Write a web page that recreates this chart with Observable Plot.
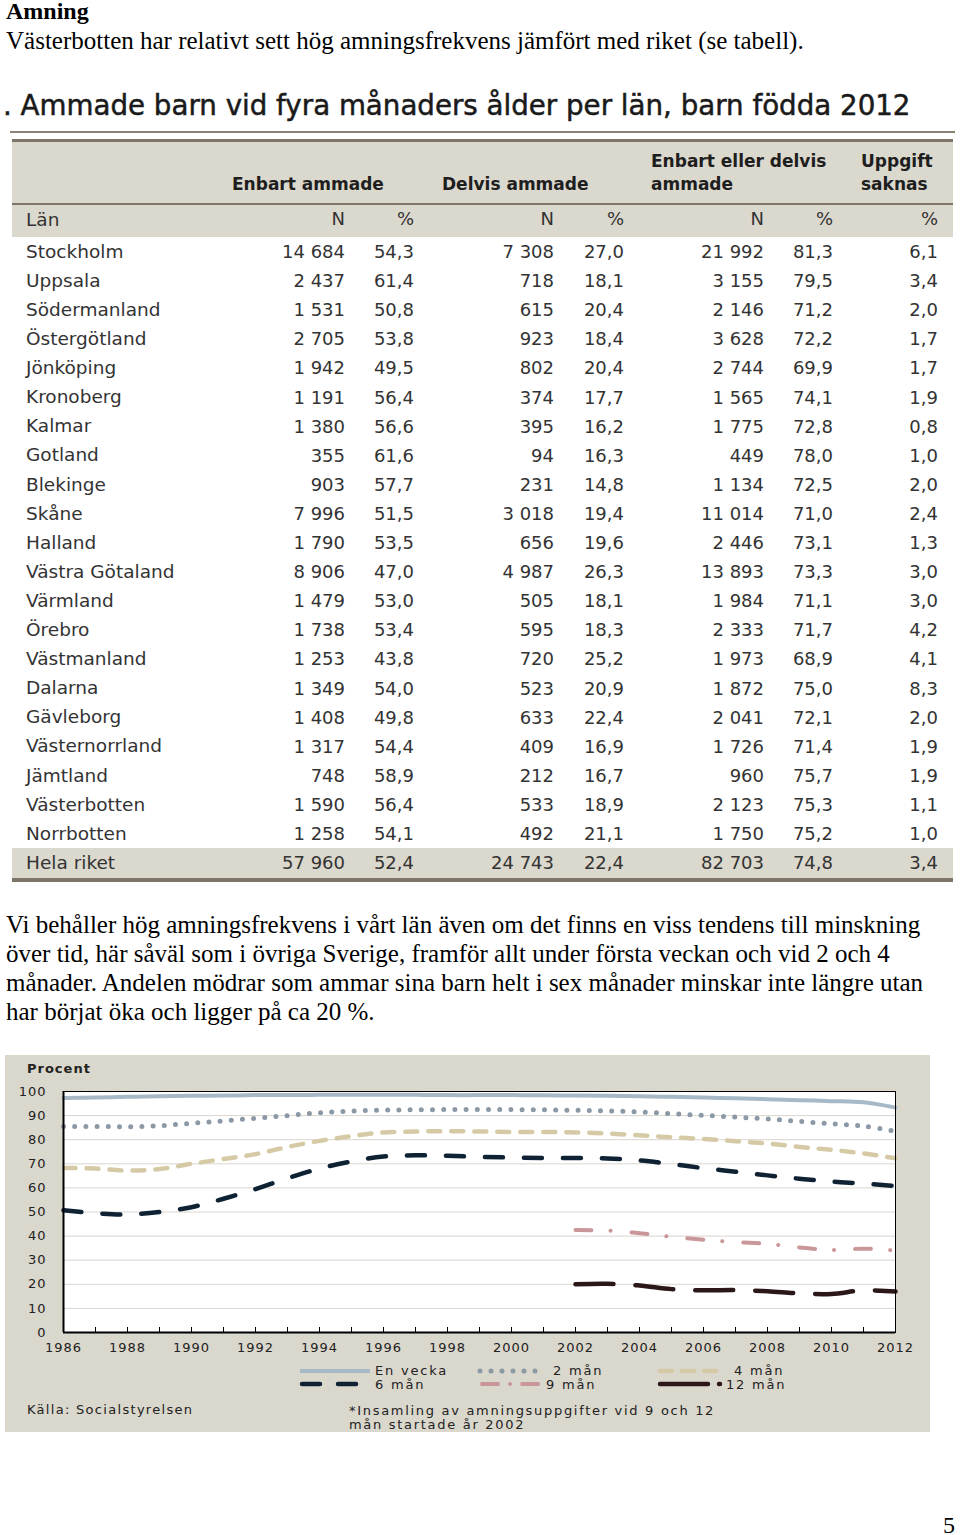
<!DOCTYPE html>
<html><head><meta charset="utf-8">
<script src="https://cdn.jsdelivr.net/npm/d3@7"></script>
<script src="https://cdn.jsdelivr.net/npm/@observablehq/plot@0.6"></script>
<style>
html,body{margin:0;padding:0;background:#fff}
body{width:960px;height:1535px;position:relative;overflow:hidden}
.t{position:absolute;white-space:nowrap}
.serif{font-family:"Liberation Serif","Times New Roman",serif;color:#000}
.sans{font-family:"DejaVu Sans",sans-serif}
.bar{position:absolute}
</style></head><body>
<script>
// ---------- data: table ----------
const lan = ["Stockholm","Uppsala","Södermanland","Östergötland","Jönköping","Kronoberg","Kalmar","Gotland","Blekinge","Skåne","Halland","Västra Götaland","Värmland","Örebro","Västmanland","Dalarna","Gävleborg","Västernorrland","Jämtland","Västerbotten","Norrbotten","Hela riket"];
const enbartN   = ["14 684","2 437","1 531","2 705","1 942","1 191","1 380","355","903","7 996","1 790","8 906","1 479","1 738","1 253","1 349","1 408","1 317","748","1 590","1 258","57 960"];
const enbartPct = ["54,3","61,4","50,8","53,8","49,5","56,4","56,6","61,6","57,7","51,5","53,5","47,0","53,0","53,4","43,8","54,0","49,8","54,4","58,9","56,4","54,1","52,4"];
const delvisN   = ["7 308","718","615","923","802","374","395","94","231","3 018","656","4 987","505","595","720","523","633","409","212","533","492","24 743"];
const delvisPct = ["27,0","18,1","20,4","18,4","20,4","17,7","16,2","16,3","14,8","19,4","19,6","26,3","18,1","18,3","25,2","20,9","22,4","16,9","16,7","18,9","21,1","22,4"];
const totN      = ["21 992","3 155","2 146","3 628","2 744","1 565","1 775","449","1 134","11 014","2 446","13 893","1 984","2 333","1 973","1 872","2 041","1 726","960","2 123","1 750","82 703"];
const totPct    = ["81,3","79,5","71,2","72,2","69,9","74,1","72,8","78,0","72,5","71,0","73,1","73,3","71,1","71,7","68,9","75,0","72,1","71,4","75,7","75,3","75,2","74,8"];
const saknasPct = ["6,1","3,4","2,0","1,7","1,7","1,9","0,8","1,0","2,0","2,4","1,3","3,0","3,0","4,2","4,1","8,3","2,0","1,9","1,9","1,1","1,0","3,4"];

// ---------- data: chart ----------
const years = d3.range(1986, 2013);
const enVecka = [97.3,97.5,97.8,98.0,98.2,98.3,98.5,98.5,98.6,98.6,98.6,98.6,98.5,98.5,98.5,98.4,98.3,98.2,98.0,97.8,97.5,97.2,96.8,96.4,96.0,95.5,93.3];
const man2    = [85.5,85.5,85.4,85.8,86.8,87.8,88.9,90.0,91.2,91.9,92.3,92.4,92.5,92.5,92.5,92.4,92.2,92.0,91.5,90.8,90.1,89.4,88.6,87.6,86.6,85.6,83.5];
const man4    = [68.3,68.0,67.2,67.8,70.0,72.0,74.0,77.0,79.5,81.5,83.0,83.4,83.5,83.4,83.2,83.2,83.0,82.6,81.8,81.0,80.3,79.4,78.4,77.0,75.8,74.3,72.3];
const man6    = [50.7,49.5,49.0,50.0,52.0,55.5,59.5,64.0,68.0,71.0,73.0,73.5,73.3,72.9,72.6,72.4,72.4,72.2,71.4,69.9,68.2,66.7,65.2,63.8,62.6,61.8,60.8];
const years9  = d3.range(2002, 2013);
const man9    = [42.5,42.3,41.2,39.7,38.5,37.5,36.8,35.3,34.2,34.8,34.0];
const man12   = [20.0,20.2,19.5,18.0,17.5,17.6,17.1,16.2,16.0,17.5,17.0];

const legendLabels = ["En vecka","2 mån","4 mån","6 mån","9 mån","12 mån"];
const colors = ["#a7b9c6","#8a99a5","#d6caa6","#0e2233","#c9979a","#2b1717"];

// ---------- helpers ----------
const body = document.body;
function txt(s, x, yc, size, cls, extra = {}) {
  const d = document.createElement("div");
  d.className = "t " + cls;
  d.textContent = s;
  d.style.fontSize = size + "px";
  d.style.lineHeight = size + "px";
  d.style.top = (yc - size / 2) + "px";
  if (extra.right != null) { d.style.left = (extra.right - 300) + "px"; d.style.width = "300px"; d.style.textAlign = "right"; }
  else d.style.left = x + "px";
  for (const k in extra) if (k !== "right" && k !== "parent") d.style[k] = extra[k];
  (extra.parent || body).appendChild(d);
  return d;
}
function bar(x, y, w, h, c, parent) {
  const d = document.createElement("div");
  d.className = "bar";
  Object.assign(d.style, {left: x + "px", top: y + "px", width: w + "px", height: h + "px", background: c});
  (parent || body).appendChild(d);
}

// ---------- text ----------
txt("Amning", 6, 11, 24, "serif", {fontWeight: "bold"});
txt("Västerbotten har relativt sett hög amningsfrekvens jämfört med riket (se tabell).", 6, 40, 25, "serif");

const para = [
  "Vi behåller hög amningsfrekvens i vårt län även om det finns en viss tendens till minskning",
  "över tid, här såväl som i övriga Sverige, framför allt under första veckan och vid 2 och 4",
  "månader. Andelen mödrar som ammar sina barn helt i sex månader minskar inte längre utan",
  "har börjat öka och ligger på ca 20 %."
];
para.forEach((s, i) => txt(s, 6, 924 + i * 29, 25, "serif"));
txt("5", 943, 1525, 24, "serif");

// ---------- table ----------
const lineC = "#7d7568", beige = "#dbd8cd";
txt(". Ammade barn vid fyra månaders ålder per län, barn födda 2012", 3, 106, 27.7, "sans", {color: "#1a1a1a", WebkitTextStroke: "0.5px #1a1a1a"});
bar(10, 131, 945, 2, "#8a8274");
bar(12, 139, 941, 3, lineC);
bar(12, 142, 941, 61, beige);
bar(12, 203, 941, 2, lineC);
bar(12, 205, 941, 32, beige);
bar(12, 848, 941, 30, beige);
bar(12, 878, 941, 4, lineC);

const hs = {color: "#1e1e1e", fontWeight: "bold"};
txt("Enbart ammade", 232, 184, 17, "sans", hs);
txt("Delvis ammade", 442, 184, 17, "sans", hs);
txt("Enbart eller delvis", 651, 161, 17, "sans", hs);
txt("ammade", 651, 184, 17, "sans", hs);
txt("Uppgift", 861, 161, 17, "sans", hs);
txt("saknas", 861, 184, 17, "sans", hs);

const cs = {color: "#333"};
const colRight = [345, 414, 554, 624, 764, 833, 938];
txt("Län", 26, 220, 18.5, "sans", cs);
["N","%","N","%","N","%","%"].forEach((h, j) => txt(h, 0, 219, 18, "sans", {...cs, right: colRight[j]}));

const cols = [enbartN, enbartPct, delvisN, delvisPct, totN, totPct, saknasPct];
lan.forEach((name, i) => {
  const yc = i < 21 ? 252 + i * 29.1 : 863;
  txt(name, 26, yc, 18.5, "sans", cs);
  cols.forEach((arr, j) => txt(arr[i], 0, yc, 18, "sans", {...cs, right: colRight[j]}));
});

// ---------- chart ----------
const panel = document.createElement("div");
Object.assign(panel.style, {position: "absolute", left: "5px", top: "1055px", width: "925px", height: "377px", background: "#dad7cc"});
body.appendChild(panel);

const series = [
  {x: years, y: enVecka, dash: null, w: 4},
  {x: years, y: man2, dash: "0,11.2", w: 5},
  {x: years, y: man4, dash: "12,11", w: 4.5},
  {x: years, y: man6, dash: "18,21", w: 4.5},
  {x: years9, y: man9, dash: "16,19,0.1,21", w: 4},
  {x: years9, y: man12, dash: "38,22", w: 4.5}
];
const lineMarks = series.map((s, k) => Plot.line(s.x.map((yr, i) => ({year: yr, value: s.y[i]})), {
  x: "year", y: "value", stroke: colors[k], strokeWidth: s.w,
  strokeDasharray: s.dash || undefined, strokeLinecap: "round", curve: "catmull-rom"
}));

const chart = Plot.plot({
  width: 925, height: 307,
  marginLeft: 58, marginRight: 35, marginTop: 36, marginBottom: 30,
  style: {background: "transparent", fontFamily: "DejaVu Sans", fontSize: "13px", color: "#222", letterSpacing: "1px", overflow: "visible"},
  x: {domain: [1986, 2012]},
  y: {domain: [0, 100]},
  marks: [
    Plot.frame({fill: "white"}),
    Plot.gridY(d3.range(10, 100, 10), {stroke: "#d9d6ce", strokeOpacity: 1}),
    Plot.axisY({ticks: d3.range(0, 101, 10), tickSize: 0, tickPadding: 17, label: null}),
    Plot.axisX({ticks: years, tickSize: -5, tickFormat: () => "", label: null, stroke: "#000"}),
    Plot.axisX({ticks: d3.range(1986, 2013, 2), tickSize: 0, tickPadding: 10, tickFormat: d => String(d), label: null}),
    ...lineMarks,
    Plot.frame({stroke: "#000", strokeWidth: 1}),
    Plot.ruleX([1986], {stroke: "#000", strokeWidth: 2}),
    Plot.ruleY([0], {stroke: "#000", strokeWidth: 2})
  ]
});
chart.style.position = "absolute";
chart.style.left = "0px";
chart.style.top = "0px";
panel.appendChild(chart);

const ps = {color: "#222", letterSpacing: "1.8px", parent: panel};
txt("Procent", 22, 13, 13, "sans", {...ps, fontWeight: "bold", letterSpacing: "1px"});

// legend (positions relative to panel)
function swatch(x, yc, w, k, dash) {
  const ns = "http://www.w3.org/2000/svg";
  const svg = document.createElementNS(ns, "svg");
  svg.setAttribute("width", w + 8); svg.setAttribute("height", 10);
  Object.assign(svg.style, {position: "absolute", left: (x - 4) + "px", top: (yc - 5) + "px", overflow: "visible"});
  const l = document.createElementNS(ns, "line");
  l.setAttribute("x1", 4); l.setAttribute("x2", w + 4); l.setAttribute("y1", 5); l.setAttribute("y2", 5);
  l.setAttribute("stroke", colors[k]); l.setAttribute("stroke-width", series[k].w);
  l.setAttribute("stroke-linecap", dash ? "round" : "butt");
  if (dash) l.setAttribute("stroke-dasharray", dash);
  svg.appendChild(l);
  panel.appendChild(svg);
}
swatch(295, 316, 70, 0, null);
swatch(297, 329, 60, 3, "18,18");
swatch(475, 316, 60, 1, "0,11");
swatch(477, 329, 60, 4, "16,12,0.1,12");
swatch(655, 316, 58, 2, "12,10");
swatch(655, 329, 60, 5, "48,11");
txt(legendLabels[0], 370, 315.5, 13, "sans", ps);
txt(legendLabels[3], 370, 329, 13, "sans", ps);
txt(legendLabels[1], 548, 315.5, 13, "sans", ps);
txt(legendLabels[4], 541, 329, 13, "sans", ps);
txt(legendLabels[2], 729, 315.5, 13, "sans", ps);
txt(legendLabels[5], 721, 329, 13, "sans", ps);

txt("Källa: Socialstyrelsen", 22, 354, 13, "sans", {...ps, letterSpacing: "1.3px"});
txt("*Insamling av amningsuppgifter vid 9 och 12", 344, 355, 13, "sans", {...ps, letterSpacing: "1.7px"});
txt("mån startade år 2002", 344, 369, 13, "sans", {...ps, letterSpacing: "1.7px"});
</script>
</body></html>
